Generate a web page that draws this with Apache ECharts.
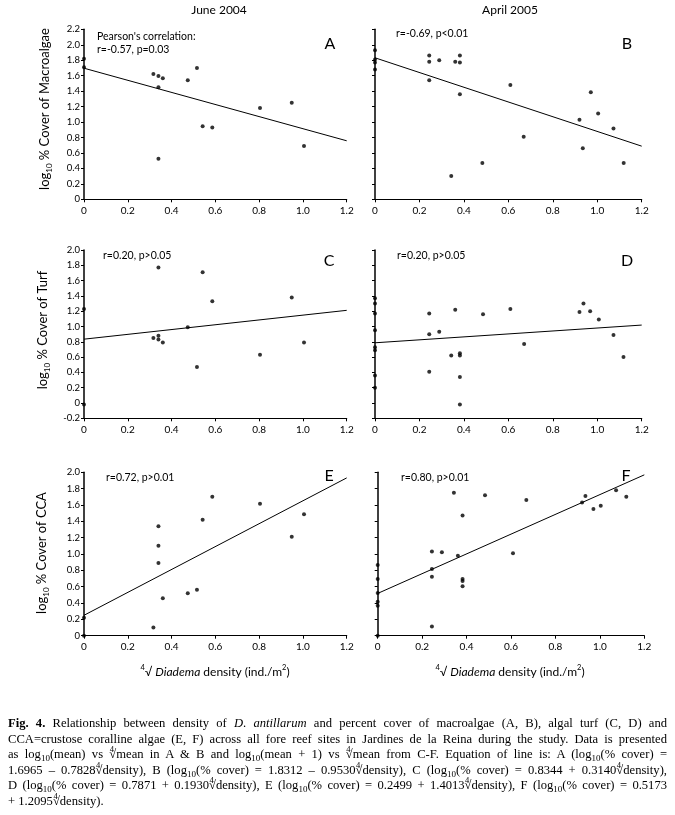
<!DOCTYPE html>
<html>
<head>
<meta charset="utf-8">
<script src="https://cdn.jsdelivr.net/npm/echarts@6/dist/echarts.min.js"></script>
<style>
  html, body { margin: 0; padding: 0; background: #fff; }
  #wrap { position: relative; width: 675px; height: 815px; overflow: hidden; }
  #chart { position: absolute; left: 0; top: 0; width: 675px; height: 815px; }
  #caption { position: absolute; left: 8px; top: 716px; width: 659px;
    font-family: "Liberation Serif", "Times New Roman", serif; font-size: 12.6px;
    line-height: 15.6px; color: #000; }
  #caption .ln { text-align: justify; text-align-last: justify; white-space: nowrap; }
  #caption .ln.last { text-align-last: left; }
  #caption sub { font-size: 9px; vertical-align: -3px; line-height: 0; }
  .rt { position: relative; display: inline-block; }
  .rt .ix { position: absolute; font-size: 8.5px; left: 0.5px; top: -3px; line-height: 10px; }
</style>
</head>
<body>
<div id="wrap">
  <div id="chart"></div>
  <div id="caption">
    <div class="ln"><b>Fig. 4.</b> Relationship between density of <i>D</i>. <i>antillarum</i> and percent cover of macroalgae (A, B), algal turf (C, D) and</div>
    <div class="ln">CCA=crustose coralline algae (E, F) across all fore reef sites in Jardines de la Reina during the study. Data is presented</div>
    <div class="ln">as log<sub>10</sub>(mean) vs <span class="rt"><span class="ix">4</span>√</span>mean in A &amp; B and log<sub>10</sub>(mean + 1) vs <span class="rt"><span class="ix">4</span>√</span>mean from C-F. Equation of line is: A (log<sub>10</sub>(% cover) =</div>
    <div class="ln">1.6965 – 0.7828<span class="rt"><span class="ix">4</span>√</span>density), B (log<sub>10</sub>(% cover) = 1.8312 – 0.9530<span class="rt"><span class="ix">4</span>√</span>density), C (log<sub>10</sub>(% cover) = 0.8344 + 0.3140<span class="rt"><span class="ix">4</span>√</span>density),</div>
    <div class="ln">D (log<sub>10</sub>(% cover) = 0.7871 + 0.1930<span class="rt"><span class="ix">4</span>√</span>density), E (log<sub>10</sub>(% cover) = 0.2499 + 1.4013<span class="rt"><span class="ix">4</span>√</span>density), F (log<sub>10</sub>(% cover) = 0.5173</div>
    <div class="ln last">+ 1.2095<span class="rt"><span class="ix">4</span>√</span>density).</div>
  </div>
</div>
<script>
// ---------------- DATA ----------------
// June 2004 sites (fourth-root Diadema density)
const xJune = [0, 0, 0.317, 0.34, 0.34, 0.34, 0.36, 0.474, 0.516, 0.542, 0.586, 0.804, 0.949, 1.005];
const macroJune = [1.82, 1.71, 1.62, 1.596, 1.45, 0.525, 1.566, 1.54, 1.70, 0.945, 0.93, 1.18, 1.25, 0.69];
const turfJune  = [1.23, -0.02, 0.85, 1.77, 0.88, 0.83, 0.79, 0.99, 0.47, 1.71, 1.33, 0.63, 1.38, 0.79];
const ccaJune   = [0.22, 0, 0.10, 1.34, 1.10, 0.89, 0.457, 0.52, 0.563, 1.42, 1.70, 1.616, 1.21, 1.486];

// April 2005
const xMacroApr = [0, 0, 0, 0, 0.244, 0.244, 0.244, 0.289, 0.361, 0.382, 0.382, 0.382, 0.343, 0.483, 0.609, 0.669, 0.920, 0.935, 0.971, 1.004, 1.073, 1.119];
const macroApr  = [1.93, 1.81, 1.77, 1.68, 1.86, 1.78, 1.54, 1.80, 1.78, 1.86, 1.77, 1.36, 0.30, 0.47, 1.48, 0.81, 1.03, 0.66, 1.385, 1.11, 0.915, 0.47];

const xTurfApr = [0, 0, 0, 0, 0, 0, 0, 0, 0.244, 0.244, 0.244, 0.289, 0.343, 0.361, 0.382, 0.382, 0.382, 0.382, 0.486, 0.609, 0.671, 0.920, 0.938, 0.968, 1.007, 1.073, 1.118];
const turfApr  = [1.37, 1.30, 1.17, 0.95, 0.73, 0.69, 0.36, 0.20, 1.17, 0.90, 0.41, 0.93, 0.62, 1.22, 0.65, 0.62, 0.34, -0.02, 1.16, 1.23, 0.77, 1.19, 1.30, 1.20, 1.09, 0.89, 0.60];

const xCcaApr = [0, 0, 0, 0, 0, 0, 0.244, 0.244, 0.244, 0.244, 0.289, 0.343, 0.361, 0.382, 0.382, 0.382, 0.382, 0.483, 0.609, 0.669, 0.920, 0.935, 0.971, 1.004, 1.073, 1.119];
const ccaApr  = [0.865, 0.694, 0.522, 0.416, 0.367, 0, 1.03, 0.816, 0.722, 0.114, 1.02, 1.75, 0.98, 1.47, 0.694, 0.67, 0.604, 1.72, 1.01, 1.66, 1.63, 1.71, 1.55, 1.59, 1.78, 1.70];

// Regression lines (values at x = 0 and x = 1.2, from the caption equations)
const fitX = [0, 1.2];
const fitA = [1.6965, 0.7571];
const fitB = [1.8312, 0.6876];
const fitC = [0.8344, 1.2112];
const fitD = [0.7871, 1.0187];
const fitE = [0.2499, 1.9315];
const fitF = [0.5173, 1.9687];

// Axis ranges & labels
const xTicks = { min: 0, max: 1.2, interval: 0.2 };
const yRanges = [[0, 2.2], [0, 2.2], [-0.2, 2.0], [-0.2, 2.0], [0, 2.0], [0, 2.0]];
const colTitles = ['June 2004', 'April 2005'];
const panelLetters = ['A', 'B', 'C', 'D', 'E', 'F'];
const stats = ['r=-0.57, p=0.03', 'r=-0.69, p<0.01', 'r=0.20, p>0.05', 'r=0.20, p>0.05', 'r=0.72, p>0.01', 'r=0.80, p>0.01'];
const yTitles = ['Macroalgae', 'Turf', 'CCA'];

// ---------------- CHART ----------------
const SANS = 'Lato, "Open Sans", "Liberation Sans", sans-serif';
const chart = echarts.init(document.getElementById('chart'), null, { renderer: 'canvas' });

const grids = [
  { left: 84, top: 29.3, width: 262.7, height: 170 },
  { left: 375, top: 29.3, width: 266.7, height: 170 },
  { left: 84, top: 250, width: 262.7, height: 168.3 },
  { left: 375, top: 250, width: 266.7, height: 168.3 },
  { left: 84, top: 472.3, width: 262.7, height: 163.4 },
  { left: 377.7, top: 472.3, width: 266.6, height: 163.4 }
];

const fmt = v => (Math.abs(v) < 1e-9 ? '0' : v.toFixed(1));

const xAxes = grids.map((g, i) => ({
  type: 'value', gridIndex: i, min: xTicks.min, max: xTicks.max, interval: xTicks.interval,
  axisLine: { show: true, onZero: false, lineStyle: { color: '#000', width: 1.2 } },
  axisTick: { show: true, inside: false, length: 3, lineStyle: { color: '#000', width: 1 } },
  axisLabel: { show: true, color: '#000', fontFamily: SANS, fontSize: 10, margin: 6, formatter: fmt },
  splitLine: { show: false }
}));

const yAxes = grids.map((g, i) => ({
  type: 'value', gridIndex: i, min: yRanges[i][0], max: yRanges[i][1], interval: 0.2,
  axisLine: { show: true, onZero: false, lineStyle: { color: '#000', width: 1.5 } },
  axisTick: { show: true, inside: false, length: 3, lineStyle: { color: '#000', width: 1 } },
  axisLabel: { show: i % 2 === 0, color: '#000', fontFamily: SANS, fontSize: 9.5, margin: 4, formatter: fmt },
  splitLine: { show: false }
}));

const zip = (xs, ys) => xs.map((x, k) => [x, ys[k]]);
const scatterSets = [
  zip(xJune, macroJune), zip(xMacroApr, macroApr),
  zip(xJune, turfJune), zip(xTurfApr, turfApr),
  zip(xJune, ccaJune), zip(xCcaApr, ccaApr)
];
const fits = [fitA, fitB, fitC, fitD, fitE, fitF];

const series = [];
scatterSets.forEach((d, i) => {
  series.push({
    type: 'scatter', xAxisIndex: i, yAxisIndex: i, data: d,
    symbol: 'circle', symbolSize: 4, itemStyle: { color: '#000' }, silent: true, z: 3
  });
  series.push({
    type: 'line', xAxisIndex: i, yAxisIndex: i, data: zip(fitX, fits[i]),
    symbol: 'none', lineStyle: { color: '#000', width: 1 }, silent: true, z: 2
  });
});

const graphics = [];
function txt(x, y, text, size, opts) {
  graphics.push(Object.assign({
    type: 'text', x: x, y: y, silent: true,
    style: Object.assign({ text: text, fill: '#000', font: size + 'px ' + SANS, align: 'left', verticalAlign: 'middle' }, opts || {})
  }));
}
// column titles
txt(219, 10, colTitles[0], 12, { align: 'center' });
txt(510, 10, colTitles[1], 12, { align: 'center' });
// panel letters
const letterPos = [[330, 44], [627, 44], [329, 261], [627, 261], [329, 476], [626, 476]];
panelLetters.forEach((L, i) => txt(letterPos[i][0], letterPos[i][1], L, 16, { align: 'center' }));
// stats annotations
txt(97, 37, "Pearson's correlation:", 10.5);
const statPos = [[97, 49.5], [396, 34], [103, 256], [397, 256], [106, 478], [401, 478]];
stats.forEach((s, i) => txt(statPos[i][0], statPos[i][1], s, 10.5));

// y axis titles (rotated) with subscript
const yTitlePos = [[45, 109], [43, 330], [42, 553]];
yTitles.forEach((t, i) => {
  graphics.push({
    type: 'text', x: yTitlePos[i][0], y: yTitlePos[i][1], rotation: Math.PI / 2, silent: true,
    style: {
      text: '{a|log}{s|10}{a| % Cover of ' + t + '}',
      align: 'center', verticalAlign: 'middle', fill: '#000',
      rich: {
        a: { fontFamily: SANS, fontSize: 13, lineHeight: 16, fill: '#000' },
        s: { fontFamily: SANS, fontSize: 8, lineHeight: 7, verticalAlign: 'bottom', fill: '#000' }
      }
    }
  });
});

// x axis titles with fourth-root sign
[215, 510].forEach(cx => {
  graphics.push({
    type: 'text', x: cx, y: 672, silent: true,
    style: {
      text: '{sp|4}{a|√ }{i|Diadema}{a| density (ind./m}{sp|2}{a|)}',
      align: 'center', verticalAlign: 'middle', fill: '#000',
      rich: {
        a: { fontFamily: SANS, fontSize: 12, lineHeight: 16, fill: '#000' },
        i: { fontFamily: SANS, fontSize: 12, fontStyle: 'italic', lineHeight: 16, fill: '#000' },
        sp: { fontFamily: SANS, fontSize: 7.5, lineHeight: 9, verticalAlign: 'top', fill: '#000' }
      }
    }
  });
});

chart.setOption({
  animation: false,
  backgroundColor: '#fff',
  grid: grids.map(g => Object.assign({ containLabel: false }, g)),
  xAxis: xAxes,
  yAxis: yAxes,
  series: series,
  graphic: { elements: graphics }
});
</script>
</body>
</html>
